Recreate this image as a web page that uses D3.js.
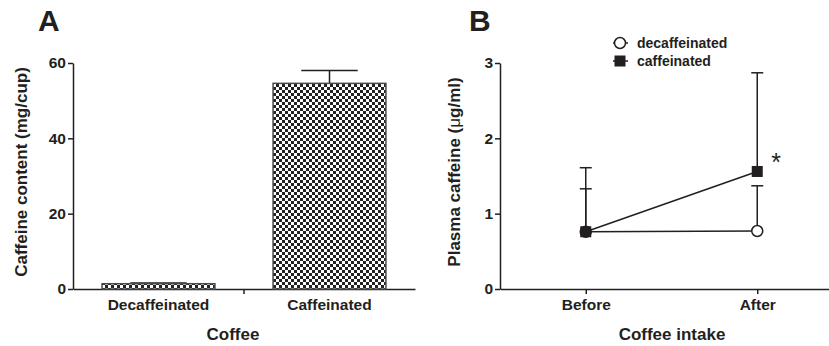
<!DOCTYPE html>
<html><head><meta charset="utf-8">
<script src="https://cdn.jsdelivr.net/npm/d3@7"></script>
<style>
body{margin:0;background:#fff}
text{font-family:"Liberation Sans",Arial,sans-serif;font-weight:bold;fill:#231f20}
</style></head>
<body><svg id="chart" width="829" height="346"></svg>
<script>
// Panel A data
const coffeeTypes = ["Decaffeinated", "Caffeinated"];
const contentMean = [1.4, 54.6];
const contentErr = [0.2, 3.4];
const contentTicks = [0, 20, 40, 60];
// Panel B data
const timepoints = ["Before", "After"];
const decafMean = [0.76, 0.77];
const decafErr = [0.57, 0.60];
const cafMean = [0.76, 1.56];
const cafErr = [0.85, 1.31];
const plasmaTicks = [0, 1, 2, 3];
const seriesNames = ["decaffeinated", "caffeinated"];

const ink = "#231f20";
const svg = d3.select("#chart");

// pattern
const defs = svg.append("defs");
const pat = defs.append("pattern").attr("id","checker").attr("patternUnits","userSpaceOnUse")
  .attr("width",6).attr("height",6);
pat.append("rect").attr("width",6).attr("height",6).attr("fill","#fff");
pat.append("rect").attr("width",3).attr("height",3).attr("fill","#222");
pat.append("rect").attr("x",3).attr("y",3).attr("width",3).attr("height",3).attr("fill","#222");

function styleAxis(g){
  g.selectAll("path,line").attr("stroke",ink).attr("stroke-width",1.5);
  g.selectAll("text").attr("fill",ink).style("font-family","'Liberation Sans',Arial,sans-serif")
    .style("font-weight","bold").style("font-size","15.5px");
}

// ---------- Panel A ----------
const yA = d3.scaleLinear().domain([0,60]).range([289,63]);
const xA = d3.scaleBand().domain(coffeeTypes).range([73,415]).paddingInner(0.34).paddingOuter(0.17);

const gA = svg.append("g");
gA.append("g").attr("transform","translate(73,0)")
  .call(d3.axisLeft(yA).tickValues(contentTicks).tickSize(5).tickPadding(2).tickSizeOuter(0))
  .call(styleAxis);
gA.append("g").attr("transform","translate(0,289)")
  .call(d3.axisBottom(xA).tickSize(0).tickPadding(10).tickSizeOuter(0))
  .call(styleAxis);
// boundary tick
const bx = xA(coffeeTypes[1]) - xA.step()*xA.paddingInner()/2;
gA.append("line").attr("x1",bx).attr("x2",bx).attr("y1",289).attr("y2",294)
  .attr("stroke",ink).attr("stroke-width",1.5);

const barData = coffeeTypes.map((c,i)=>({c, v:contentMean[i], e:contentErr[i]}));
// error bars
barData.forEach(d=>{
  const cx = xA(d.c)+xA.bandwidth()/2, hw = xA.bandwidth()/4;
  gA.append("line").attr("x1",cx).attr("x2",cx).attr("y1",yA(d.v)).attr("y2",yA(d.v+d.e))
    .attr("stroke",ink).attr("stroke-width",1.5);
  gA.append("line").attr("x1",cx-hw).attr("x2",cx+hw).attr("y1",yA(d.v+d.e)).attr("y2",yA(d.v+d.e))
    .attr("stroke",ink).attr("stroke-width",1.5);
});
gA.selectAll("rect.bar").data(barData).join("rect").attr("class","bar")
  .attr("x",d=>xA(d.c)).attr("width",xA.bandwidth())
  .attr("y",d=>yA(d.v)).attr("height",d=>yA(0)-yA(d.v))
  .attr("fill","url(#checker)").attr("stroke","#4a4a4a").attr("stroke-width",1.5);

gA.append("text").attr("x",38).attr("y",31).style("font-size","30px").text("A");
gA.append("text").attr("transform","translate(27,172) rotate(-90)").attr("text-anchor","middle")
  .style("font-size","17px").text("Caffeine content (mg/cup)");
gA.append("text").attr("x",233).attr("y",340).attr("text-anchor","middle")
  .style("font-size","17px").text("Coffee");

// ---------- Panel B ----------
const yB = d3.scaleLinear().domain([0,3]).range([289,63]);
const xB = d3.scalePoint().domain(timepoints).range([500,843]).padding(0.5);
const gB = svg.append("g");
gB.append("g").attr("transform","translate(500,0)")
  .call(d3.axisLeft(yB).tickValues(plasmaTicks).tickFormat(d3.format("d")).tickSize(5).tickPadding(2).tickSizeOuter(0))
  .call(styleAxis);
gB.append("g").attr("transform","translate(0,289)")
  .call(d3.axisBottom(xB).tickSize(5).tickPadding(5).tickSizeOuter(0))
  .call(styleAxis);

const series = [
  {name:seriesNames[0], mean:decafMean, err:decafErr, type:"circle"},
  {name:seriesNames[1], mean:cafMean, err:cafErr, type:"square"}
];
const line = d3.line().x((d,i)=>xB(timepoints[i])).y(d=>yB(d));
series.forEach(s=>{
  gB.append("path").attr("d",line(s.mean)).attr("fill","none").attr("stroke",ink).attr("stroke-width",1.5);
});
series.forEach(s=>{
  s.mean.forEach((m,i)=>{
    const cx = xB(timepoints[i]);
    gB.append("line").attr("x1",cx).attr("x2",cx).attr("y1",yB(m)).attr("y2",yB(m+s.err[i]))
      .attr("stroke",ink).attr("stroke-width",1.5);
    gB.append("line").attr("x1",cx-6).attr("x2",cx+6).attr("y1",yB(m+s.err[i])).attr("y2",yB(m+s.err[i]))
      .attr("stroke",ink).attr("stroke-width",1.5);
  });
});
function marker(g, type, cx, cy){
  if(type==="circle"){
    g.append("circle").attr("cx",cx).attr("cy",cy).attr("r",5.5)
      .attr("fill","#fff").attr("stroke",ink).attr("stroke-width",1.5);
  } else {
    g.append("rect").attr("x",cx-5.5).attr("y",cy-5.5).attr("width",11).attr("height",11).attr("fill",ink);
  }
}
series.forEach(s=>{
  s.mean.forEach((m,i)=>marker(gB, s.type, xB(timepoints[i]), yB(m)));
});
gB.append("text").attr("x",776).attr("y",171).attr("text-anchor","middle")
  .style("font-size","25px").style("font-weight","normal").text("*");

// legend
series.forEach((s,i)=>{
  const ly = 43 + i*18;
  gB.append("line").attr("x1",613).attr("x2",628).attr("y1",ly).attr("y2",ly).attr("stroke",ink).attr("stroke-width",1.5);
  marker(gB, s.type, 620, ly);
  gB.append("text").attr("x",637).attr("y",ly+5).style("font-size","14px").text(s.name);
});

gB.append("text").attr("x",469).attr("y",31).style("font-size","30px").text("B");
const tB = gB.append("text").attr("transform","translate(460,172) rotate(-90)").attr("text-anchor","middle")
  .style("font-size","17px");
tB.append("tspan").text("Plasma caffeine (");
tB.append("tspan").style("font-weight","normal").text("\u03bc");
tB.append("tspan").text("g/ml)");
gB.append("text").attr("x",672).attr("y",340).attr("text-anchor","middle")
  .style("font-size","17px").text("Coffee intake");
</script>
</body></html>
